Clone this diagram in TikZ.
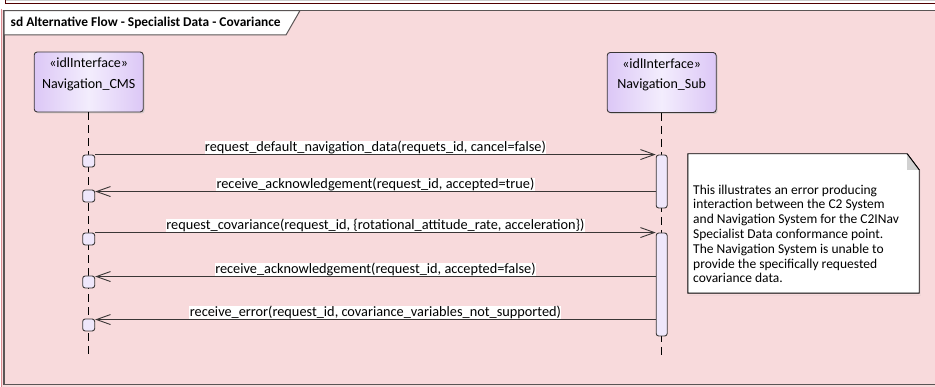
\documentclass[tikz,border=0pt]{standalone}
\usepackage{fontspec}
\setmainfont{Carlito}
\usetikzlibrary{arrows.meta,shadows}

\definecolor{framepink}{HTML}{F8DADC}
\definecolor{framerule}{HTML}{5A5555}
\definecolor{edgered}{HTML}{D98A90}
\definecolor{lifeside}{HTML}{DCC7F6}
\definecolor{lifemid}{HTML}{F3EDFD}
\definecolor{actfill}{HTML}{EFE7FB}
\definecolor{inkline}{HTML}{3A3636}

\tikzset{
  lifebox/.style={draw=inkline, line width=0.9pt, rounded corners=3pt,
    minimum width=109pt, minimum height=60pt, inner sep=0pt,
    left color=lifeside, right color=lifeside, middle color=lifemid,
    drop shadow={shadow xshift=1.5pt, shadow yshift=-1.5pt, fill=black!25, opacity=0.6}},
  lifetext/.style={align=center, font=\fontsize{14}{20.5}\selectfont, inner sep=0pt},
  lifeline/.style={draw=black, line width=0.9pt, dash pattern=on 8pt off 5pt},
  actbar/.style={draw=inkline, line width=0.9pt, fill=actfill, rounded corners=2.5pt,
    minimum width=11pt, inner sep=0pt},
  execsq/.style={draw=inkline, line width=0.9pt, fill=actfill, rounded corners=2.5pt,
    minimum width=12pt, minimum height=12pt, inner sep=0pt},
  msg/.style={draw=inkline, line width=0.9pt},
  openhead/.style={-{Straight Barb[length=14pt, width=10pt, line width=0.9pt]}},
  msglabel/.style={fill=white, inner sep=0.4pt, anchor=south, font=\fontsize{14.3}{16}\selectfont,
    text height=9.4pt, text depth=2.4pt},
  notetext/.style={align=left, anchor=north west, inner sep=0pt,
    font=\fontsize{13.5}{14.8}\selectfont},
}

\begin{document}
\begin{tikzpicture}[x=1pt, y=-1pt]
\useasboundingbox (0,0) rectangle (935,387);
\fill[white] (0,0) rectangle (935,387);

% strip of the enclosing element above the frame
\draw[black!20, line width=0.8pt] (5,0.4) -- (935,0.4);
\draw[black!60!red!80!black, line width=0.9pt] (5,0) -- (5,3.8) -- (935,3.8);

% sequence diagram frame
\fill[framepink] (1,10.5) rectangle (935,387);
\draw[edgered, line width=0.9pt] (1.4,9) -- (1.4,387);
\draw[framerule, line width=1.2pt] (935,10.6) -- (4,10.6) -- (4,384.4) -- (935,384.4);
\fill[white] (0,385.2) rectangle (1,387);

% frame title tab
\draw[fill=white, draw=framerule, line width=1pt] (4,10.6) -- (300,10.6) -- (286,35) -- (4,35) -- cycle;
\node[anchor=west, inner sep=0pt, font=\fontsize{13.4}{15}\selectfont\bfseries] (title) at (10.5,23)
  {sd Alternative Flow - Specialist Data - Covariance};

% lifeline heads
\node[lifebox] (cms) at (88.7,82) {};
\node[lifetext, anchor=north] (cmstext) at ([yshift=-6.5pt]cms.north)
  {«idlInterface»\\Navigation\_CMS};
\node[lifebox] (sub) at (661.7,82.5) {};
\node[lifetext, anchor=north] (subtext) at ([yshift=-6.5pt]sub.north)
  {«idlInterface»\\Navigation\_Sub};

% lifelines
\coordinate (cmsend) at (88.7,355);
\coordinate (subend) at (661.7,355);
\draw[lifeline] (cms.south) -- (cmsend);
\draw[lifeline] (sub.south) -- (subend);

% activations on Navigation_Sub
\node[actbar, minimum height=53pt] (act1) at (661.7,181.5) {};
\node[actbar, minimum height=103pt] (act2) at (661.7,284.5) {};

% execution points on Navigation_CMS
\node[execsq] (s1) at (88.7,161) {};
\node[execsq] (s2) at (88.7,196) {};
\node[execsq] (s3) at (88.7,239) {};
\node[execsq] (s4) at (88.7,282) {};
\node[execsq] (s5) at (88.7,325) {};

% messages
\draw[msg, openhead] (s1.north east) -- node[msglabel]
  {request\_default\_navigation\_data(requets\_id, cancel=false)} (act1.north west);
\draw[msg, openhead] ([yshift=-2pt]act1.west |- s2.north) -- node[msglabel]
  {receive\_acknowledgement(request\_id, accepted=true)} ([yshift=-2pt]s2.north east);
\draw[msg, openhead] (s3.north east) -- node[msglabel]
  {request\_covariance(request\_id, \{rotational\_attitude\_rate, acceleration\})} (act2.north west);
\draw[msg, openhead] ([yshift=-1pt]act2.west |- s4.north) -- node[msglabel]
  {receive\_acknowledgement(request\_id, accepted=false)} ([yshift=-1pt]s4.north east);
\draw[msg, openhead] ([yshift=-1pt]act2.west |- s5.north) -- node[msglabel]
  {receive\_error(request\_id, covariance\_variables\_not\_supported)} ([yshift=-1pt]s5.north east);

% note with folded corner
\node[minimum width=231pt, minimum height=139pt, inner sep=0pt] (note) at (803.5,223.5) {};
\fill[black!30] ([xshift=1.5pt,yshift=-16pt]note.north east) rectangle ([xshift=1.5pt,yshift=-1.5pt]note.south east);
\fill[black!30] ([xshift=1.5pt,yshift=-1.5pt]note.south west) rectangle ([xshift=1.5pt,yshift=-1.5pt]note.south east);
\draw[fill=white, draw=black, line width=0.9pt]
  (note.north west) -- ([xshift=-12pt]note.north east) -- ([yshift=-16pt]note.north east)
  -- (note.south east) -- (note.south west) -- cycle;
\fill[black!18] ([xshift=-12pt]note.north east) -- ([xshift=-12pt,yshift=-16pt]note.north east)
  -- ([yshift=-16pt]note.north east) -- cycle;
\draw[black, line width=0.9pt] ([xshift=-12pt]note.north east) -- ([yshift=-16pt]note.north east);
\node[notetext] (notebody) at (693,184.5)
  {This illustrates an error producing\\
   interaction between the C2 System\\
   and Navigation System for the C2INav\\
   Specialist Data conformance point.\\
   The Navigation System is unable to\\
   provide the specifically requested\\
   covariance data.};
\end{tikzpicture}
\end{document}
